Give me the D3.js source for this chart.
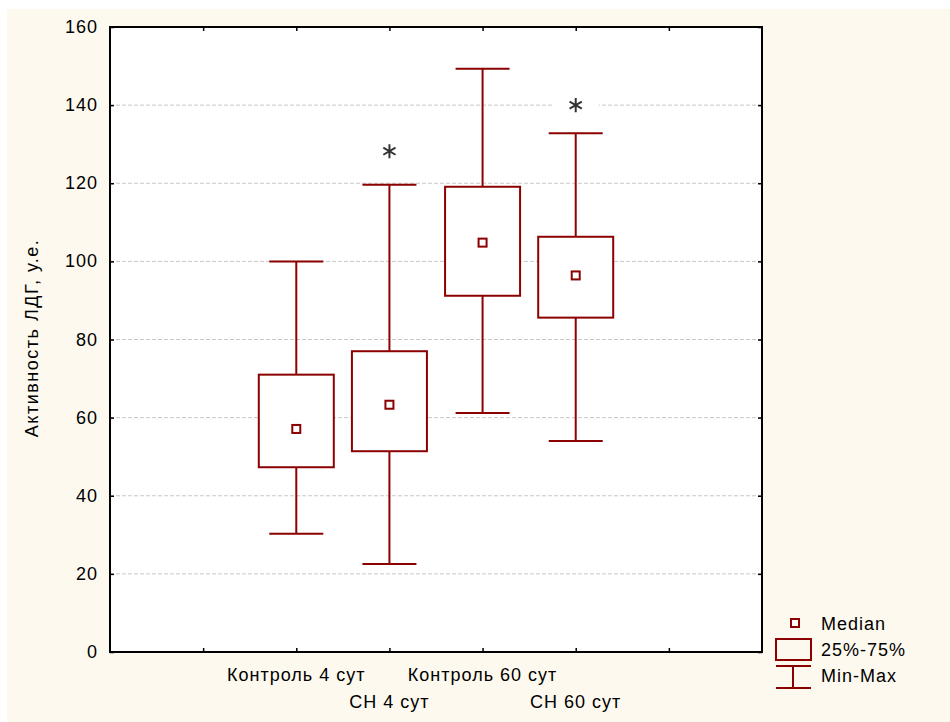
<!DOCTYPE html>
<html>
<head>
<meta charset="utf-8">
<script src="https://cdn.jsdelivr.net/npm/d3@7"></script>
<style>
body { margin: 0; background: #fff; }
text { font-family: "Liberation Sans", Arial, sans-serif; letter-spacing: 1px; }
</style>
</head>
<body>
<script>
// chart data
var groups = ["Контроль 4 сут", "CH 4 сут", "Контроль 60 сут", "CH 60 сут"];
var mins = [30.3, 22.5, 61.2, 54];
var q1s = [47.3, 51.4, 91.2, 85.6];
var medians = [57.1, 63.3, 104.8, 96.4];
var q3s = [71, 77, 119.1, 106.3];
var maxs = [100, 119.6, 149.3, 132.8];
var starGroups = ["CH 4 сут", "CH 60 сут"];
var starValues = [128.2, 140];
var yTicks = [0, 20, 40, 60, 80, 100, 120, 140, 160];

var w = 950, h = 722;
var plotL = 110, plotR = 762, plotT = 27, plotB = 652;
var red = "#8b0000";

var svg = d3.select("body").append("svg")
    .attr("width", w)
    .attr("height", h);

// beige page background
svg.append("rect")
    .attr("x", 7).attr("y", 9)
    .attr("width", w - 7).attr("height", h - 9)
    .attr("fill", "#fdf9ef");

// plot area
svg.append("rect")
    .attr("x", plotL).attr("y", plotT)
    .attr("width", plotR - plotL).attr("height", plotB - plotT)
    .attr("fill", "#fff");

var y = d3.scaleLinear().domain([0, 160]).range([plotB, plotT]);
// slots 0..7, groups sit at 2..5
var x = d3.scaleLinear().domain([0, 7]).range([plotL, plotR]);
function gx(i) { return x(i + 2); }

// gridlines
svg.append("g").selectAll("line")
    .data(yTicks.filter(function(d) { return d > 0 && d < 160; }))
    .enter().append("line")
    .attr("x1", plotL).attr("x2", plotR)
    .attr("y1", function(d) { return y(d); })
    .attr("y2", function(d) { return y(d); })
    .attr("stroke", "#c8c8c8")
    .attr("stroke-dasharray", "4,2");

// asterisks with white patch behind
var star = d3.symbol().type(d3.symbolAsterisk).size(140);
starGroups.forEach(function(g, k) {
    var i = groups.indexOf(g);
    svg.append("rect")
        .attr("x", gx(i) - 23).attr("y", y(starValues[k]) - 10)
        .attr("width", 46).attr("height", 20)
        .attr("fill", "#fff");
    svg.append("path")
        .attr("transform", "translate(" + gx(i) + "," + y(starValues[k]) + ")")
        .attr("d", star())
        .attr("fill", "none")
        .attr("stroke", "#333")
        .attr("stroke-width", 2);
});

// boxes
var boxW = 75, capW = 54;
var boxes = svg.append("g").selectAll("g")
    .data(groups)
    .enter().append("g");

boxes.append("line")
    .attr("x1", function(d, i) { return gx(i); })
    .attr("x2", function(d, i) { return gx(i); })
    .attr("y1", function(d, i) { return y(maxs[i]); })
    .attr("y2", function(d, i) { return y(q3s[i]); })
    .attr("stroke", red).attr("stroke-width", 2);
boxes.append("line")
    .attr("x1", function(d, i) { return gx(i); })
    .attr("x2", function(d, i) { return gx(i); })
    .attr("y1", function(d, i) { return y(q1s[i]); })
    .attr("y2", function(d, i) { return y(mins[i]); })
    .attr("stroke", red).attr("stroke-width", 2);
boxes.append("line")
    .attr("x1", function(d, i) { return gx(i) - capW / 2; })
    .attr("x2", function(d, i) { return gx(i) + capW / 2; })
    .attr("y1", function(d, i) { return y(maxs[i]); })
    .attr("y2", function(d, i) { return y(maxs[i]); })
    .attr("stroke", red).attr("stroke-width", 2);
boxes.append("line")
    .attr("x1", function(d, i) { return gx(i) - capW / 2; })
    .attr("x2", function(d, i) { return gx(i) + capW / 2; })
    .attr("y1", function(d, i) { return y(mins[i]); })
    .attr("y2", function(d, i) { return y(mins[i]); })
    .attr("stroke", red).attr("stroke-width", 2);
boxes.append("rect")
    .attr("x", function(d, i) { return gx(i) - boxW / 2; })
    .attr("y", function(d, i) { return y(q3s[i]); })
    .attr("width", boxW)
    .attr("height", function(d, i) { return y(q1s[i]) - y(q3s[i]); })
    .attr("fill", "#fff")
    .attr("stroke", red).attr("stroke-width", 2);
boxes.append("rect")
    .attr("x", function(d, i) { return gx(i) - 4; })
    .attr("y", function(d, i) { return y(medians[i]) - 4; })
    .attr("width", 8).attr("height", 8)
    .attr("fill", "#fff")
    .attr("stroke", red).attr("stroke-width", 2);

// frame
svg.append("rect")
    .attr("x", plotL).attr("y", plotT)
    .attr("width", plotR - plotL).attr("height", plotB - plotT)
    .attr("fill", "none")
    .attr("stroke", "#000").attr("stroke-width", 2);

// y axis (ticks point inward)
svg.append("g")
    .attr("transform", "translate(" + plotL + ",0)")
    .call(d3.axisRight(y).tickValues(yTicks).tickSize(4).tickFormat(""))
    .select(".domain").remove();
svg.append("g")
    .attr("transform", "translate(" + plotR + ",0)")
    .call(d3.axisLeft(y).tickValues(yTicks).tickSize(4).tickFormat(""))
    .select(".domain").remove();
svg.append("g").selectAll("text")
    .data(yTicks)
    .enter().append("text")
    .attr("x", plotL - 12)
    .attr("y", function(d) { return y(d) + 6; })
    .attr("text-anchor", "end")
    .attr("font-size", 18)
    .text(function(d) { return d; });

// x axis ticks
svg.append("g")
    .attr("transform", "translate(0," + plotB + ")")
    .call(d3.axisTop(x).tickValues([1, 2, 3, 4, 5, 6]).tickSize(4).tickFormat(""))
    .select(".domain").remove();
svg.append("g")
    .attr("transform", "translate(0," + plotT + ")")
    .call(d3.axisBottom(x).tickValues([1, 2, 3, 4, 5, 6]).tickSize(4).tickFormat(""))
    .select(".domain").remove();
svg.selectAll(".tick line").attr("stroke", "#000").attr("stroke-width", 1.5);

svg.append("g").selectAll("text")
    .data(groups)
    .enter().append("text")
    .attr("x", function(d, i) { return gx(i); })
    .attr("y", function(d, i) { return i % 2 === 0 ? 681 : 708; })
    .attr("text-anchor", "middle")
    .attr("font-size", 18)
    .text(function(d) { return d; });

// y axis title
svg.append("text")
    .attr("transform", "translate(38," + 338 + ") rotate(-90)")
    .attr("text-anchor", "middle")
    .attr("font-size", 18)
    .style("letter-spacing", "1.5px")
    .text("Активность ЛДГ, у.е.");

// legend
var lg = svg.append("g");
lg.append("rect")
    .attr("x", 791).attr("y", 619).attr("width", 8).attr("height", 8)
    .attr("fill", "#fff").attr("stroke", red).attr("stroke-width", 2);
lg.append("rect")
    .attr("x", 776).attr("y", 639).attr("width", 35).attr("height", 21)
    .attr("fill", "none").attr("stroke", red).attr("stroke-width", 2);
lg.append("line").attr("x1", 776).attr("x2", 811).attr("y1", 666).attr("y2", 666)
    .attr("stroke", red).attr("stroke-width", 2);
lg.append("line").attr("x1", 776).attr("x2", 811).attr("y1", 688).attr("y2", 688)
    .attr("stroke", red).attr("stroke-width", 2);
lg.append("line").attr("x1", 793).attr("x2", 793).attr("y1", 666).attr("y2", 688)
    .attr("stroke", red).attr("stroke-width", 2);
lg.selectAll("text")
    .data(["Median", "25%-75%", "Min-Max"])
    .enter().append("text")
    .attr("x", 821)
    .attr("y", function(d, i) { return 630 + i * 26; })
    .attr("font-size", 18)
    .text(function(d) { return d; });
</script>
</body>
</html>
